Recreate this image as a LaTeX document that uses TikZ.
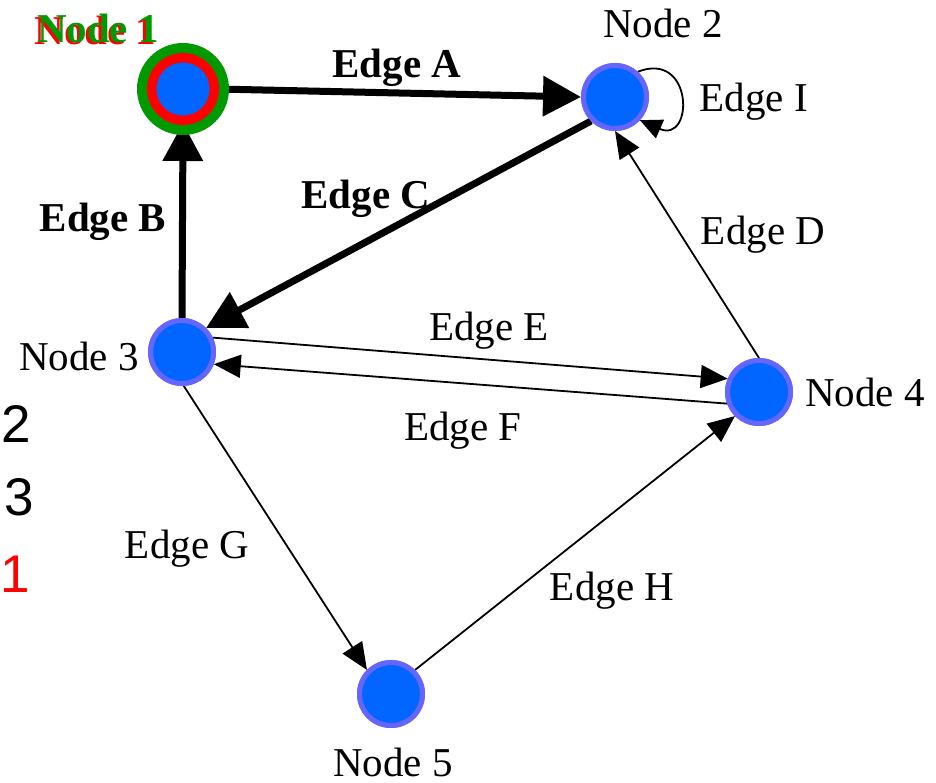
\documentclass[tikz,border=0pt]{standalone}
\usepackage{fontspec}
\setmainfont{Liberation Serif}
\newfontfamily\digitfont{Liberation Sans}
\usetikzlibrary{arrows.meta}
\definecolor{nodeblue}{RGB}{0,102,255}
\definecolor{nodeedge}{RGB}{102,102,255}
\definecolor{ngreen}{RGB}{0,153,0}
\definecolor{nred}{RGB}{255,0,0}
\tikzset{
  gnode/.style={circle, minimum size=63pt, inner sep=0pt, fill=nodeblue, draw=nodeedge, line width=5pt, outer sep=2.5pt},
  hnode/.style={circle, minimum size=68pt, inner sep=0pt, outer sep=0pt},
  lbl/.style={anchor=base, inner sep=0pt, font=\fontsize{41}{48}\selectfont},
  blbl/.style={lbl, font=\fontsize{41}{48}\selectfont\bfseries},
  dlbl/.style={anchor=base, inner sep=0pt, font=\digitfont\fontsize{53}{60}\selectfont},
  thin/.style={line width=1.8pt, -{Triangle[length=27pt,width=23pt]}},
  thick/.style={line width=7pt, -{Triangle[length=38pt,width=39pt]}},
}
\begin{document}
\begin{tikzpicture}[x=1pt, y=-1pt]
\useasboundingbox (0,0) rectangle (936,783);
% nodes (anchor-only for node 1)
\node[hnode] (n1) at (183,89) {};
\node[gnode] (n2) at (615,97) {};
\node[gnode] (n3) at (182,352) {};
\node[gnode] (n4) at (759,392) {};
\node[gnode] (n5) at (391,694) {};
% edges
\draw[thick] (n1.east) -- (n2.west);
\draw[thick] (n2.south west) -- (n3.north east);
\draw[thick] (n3.north) -- (n1.south);
\draw[thin] (n4.north) -- (n2.south);
\draw[thin] (n3.25) -- (n4.157);
\draw[thin] (n4.200) -- (n3.339);
\draw[thin] (n3.-87) -- (n5.north west);
\draw[thin] (n5.north east) -- (n4.south west);
\draw[line width=1.8pt, -{Triangle[length=22pt,width=20pt]}] (n2.48) .. controls (694,50) and (694,144) .. (n2.-43);
% node 1 drawn on top
\fill[ngreen] (n1.center) circle (46);
\fill[nred] (n1.center) circle (36);
\fill[nodeblue] (n1.center) circle (26.5);
\node[gnode] at (n2) {};
\node[gnode] at (n3) {};
\node[gnode] at (n4) {};
\node[gnode] at (n5) {};
% labels
\node[blbl, text=nred] (t1r) at (95.5,44.5) {Node 1};
\node[blbl, text=ngreen] (t1) at (98,43) {Node 1};
\node[lbl] (t2) at (663,38) {Node 2};
\node[lbl] (t3) at (79,370) {Node 3};
\node[lbl] (t4) at (865,406) {Node 4};
\node[lbl] (t5) at (393,776) {Node 5};
\node[blbl] (ea) at (397,78) {Edge A};
\node[blbl] (eb) at (103,232) {Edge B};
\node[blbl] (ec) at (366,209) {Edge C};
\node[lbl] (ed) at (763,245) {Edge D};
\node[lbl] (ee) at (489,340) {Edge E};
\node[lbl] (ef) at (463,440) {Edge F};
\node[lbl] (eg) at (187,558) {Edge G};
\node[lbl] (eh) at (612,600) {Edge H};
\node[lbl] (ei) at (754,112) {Edge I};
\node[dlbl] (d2) at (16,442) {2};
\node[dlbl] (d3) at (19,515) {3};
\node[dlbl, text=nred] (d1) at (15,592) {1};
\end{tikzpicture}
\end{document}
